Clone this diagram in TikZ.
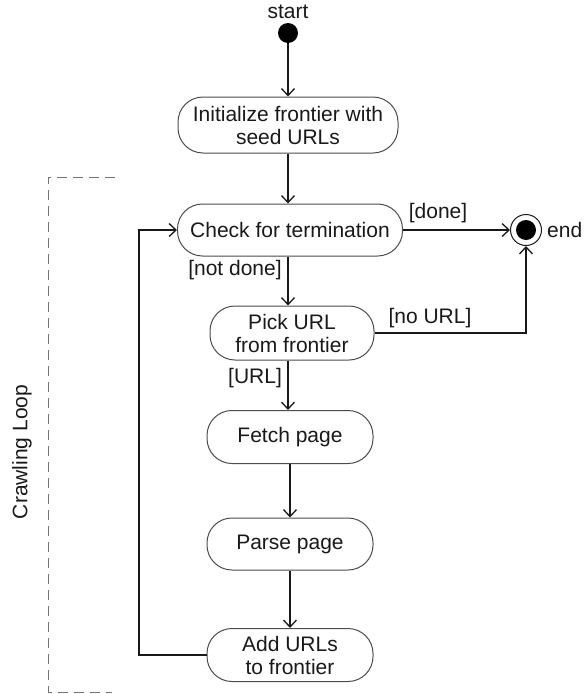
\documentclass[tikz,border=0pt]{standalone}
\usepackage{fontspec}
\setmainfont{Liberation Sans}
\usetikzlibrary{positioning,arrows.meta}

\begin{document}
\begin{tikzpicture}[
        x=1pt,
        y=-1pt,
        every node/.style={font=\fontsize{21}{23}\selectfont, text=black!90},
        activity/.style={
            draw=black!70,
            line width=1pt,
            rounded corners=25pt,
            minimum width=166pt,
            minimum height=53pt,
            align=center,
            inner sep=0pt
        },
        flow/.style={
            draw=black!90,
            line width=1.3pt,
            -{Straight Barb[length=7pt,width=13pt]}
        },
        startdot/.style={
            circle,
            fill=black,
            minimum size=20pt,
            inner sep=0pt
        },
        endring/.style={
            circle,
            draw=black!90,
            line width=1pt,
            minimum size=31pt,
            inner sep=0pt
        },
        guard/.style={inner sep=0pt}
    ]
        \useasboundingbox (0,0) rectangle (585,694);

        % Start and the actions, top to bottom
        \node[startdot] (start) at (288,33) {};
        \node (startlbl) at (288,12) {start};

        \node[activity, minimum width=220pt, minimum height=56pt]
            (init) at (288,125) {Initialize frontier with\\seed URLs};
        \node[activity, minimum width=225pt, minimum height=52pt]
            (check) at (290,230) {Check for termination};
        \node[activity, minimum width=164pt, minimum height=54pt]
            (pick) at (292,333) {Pick URL\\from frontier};
        \node[activity] (fetch) at (290,437) {Fetch page};
        \node[activity, minimum height=52pt] (parse) at (290,544) {Parse page};
        \node[activity] (add) at (290,655) {Add URLs\\to frontier};

        % End state
        \node[endring] (end) at (526,230) {};
        \node[startdot] (endin) at (end) {};
        \node[guard, anchor=west] (endlbl) at (547,230) {end};

        % Guards
        \node[guard] (done) at (438,213) {[done]};
        \node[guard] (notdone) at (235,270) {[not done]};
        \node[guard] (nourl) at (430,318) {[no URL]};
        \node[guard] (url) at (255,378) {[URL]};

        % Flows
        \draw[flow] (start) -- (init.north -| start);
        \draw[flow] (init) -- (check.north -| init);
        \draw[flow] (check) -- (end);
        \draw[flow] (check.south -| init) -- (pick.north -| init);
        \draw[flow] (pick.east) -| (end.south);
        \draw[flow] (pick.south -| init) -- (fetch.north -| init);
        \draw[flow] (fetch) -- (parse);
        \draw[flow] (parse) -- (add);

        % Back to the check
        \coordinate (loopleft) at (139,0);
        \draw[flow] (add.west) -- (add.west -| loopleft) |- (check.west);

        % Loop frame
        \draw[black!55, line width=1pt, dash pattern=on 10pt off 6pt]
            (115,177) -- (48,177) -- (48,692) -- (112,692);
        \node[rotate=90] (looplbl) at (22,452) {Crawling Loop};

    \end{tikzpicture}
\end{document}
